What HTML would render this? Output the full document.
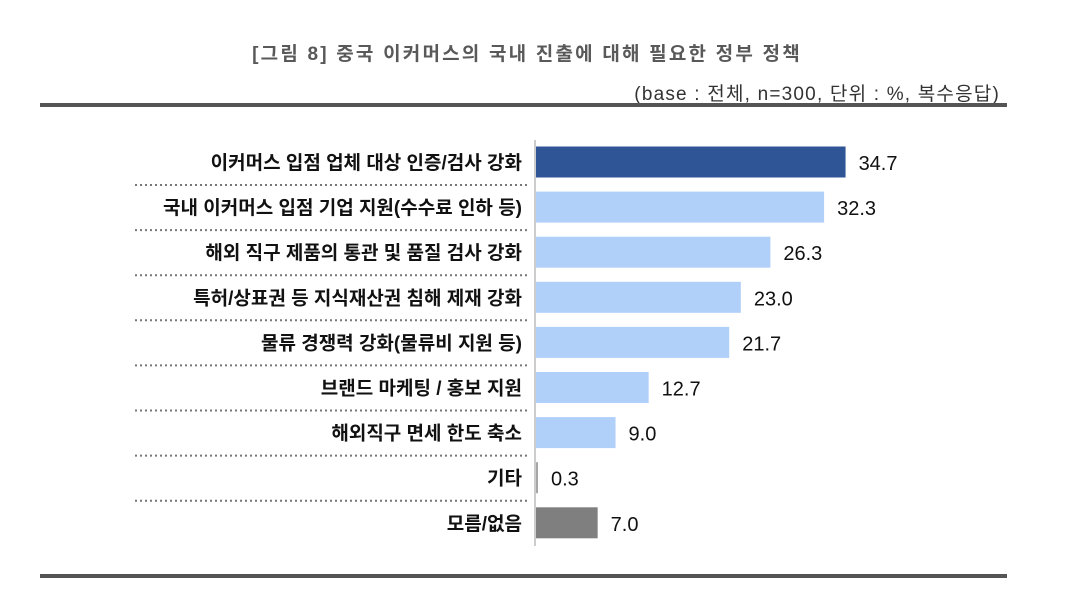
<!DOCTYPE html>
<html><head><meta charset="utf-8"><style>
body{margin:0;background:#fff;width:1067px;height:599px;overflow:hidden;font-family:"Liberation Sans","Noto Sans CJK KR",sans-serif}
</style></head><body>
<svg width="1067" height="599" id="c">
<text x="527" y="60" text-anchor="middle" font-size="19" font-weight="600" fill="#595959" letter-spacing="2.2" font-family="Liberation Sans, Noto Sans CJK KR, sans-serif">[그림 8] 중국 이커머스의 국내 진출에 대해 필요한 정부 정책</text>
<text x="1000" y="100" text-anchor="end" font-size="19" fill="#333" letter-spacing="1.2" font-family="Liberation Sans, Noto Sans CJK KR, sans-serif">(base : 전체, n=300, 단위 : %, 복수응답)</text>
<rect x="40" y="103" width="967" height="4" fill="#555"/>
<rect x="40" y="574" width="967" height="4" fill="#555"/>
<line x1="535" y1="140" x2="535" y2="546" stroke="#ccc" stroke-width="2"/>
<g id="bars"></g>
</svg>
<script>
const categories=["이커머스 입점 업체 대상 인증/검사 강화","국내 이커머스 입점 기업 지원(수수료 인하 등)","해외 직구 제품의 통관 및 품질 검사 강화","특허/상표권 등 지식재산권 침해 제재 강화","물류 경쟁력 강화(물류비 지원 등)","브랜드 마케팅 / 홍보 지원","해외직구 면세 한도 축소","기타","모름/없음"];
const values=[34.7,32.3,26.3,23.0,21.7,12.7,9.0,0.3,7.0];
const colors=["#2f5597","#b0d0fa","#b0d0fa","#b0d0fa","#b0d0fa","#b0d0fa","#b0d0fa","#a6a6a6","#7f7f7f"];
const NS="http://www.w3.org/2000/svg";
const g=document.getElementById('bars');
const x=v=>535+v*8.95;
const yc=i=>162+i*45.1;
function mk(t,a){const e=document.createElementNS(NS,t);for(const k in a)e.setAttribute(k,a[k]);return e;}
categories.forEach((c,i)=>{
 const r=mk('rect',{x:536,y:yc(i)-15.5,width:Math.max(x(values[i])-536,2),height:31,fill:colors[i]});
 
 
 g.appendChild(r);
 const l=mk('text',{x:522,y:yc(i)+7,'text-anchor':'end','font-size':19,'font-weight':'bold',fill:'#111'});
 l.textContent=c;
 
 
 g.appendChild(l);
 const v=mk('text',{x:Math.max(x(values[i]),538)+13,y:yc(i)+8,'font-size':20,'font-weight':500,fill:'#111'});
 v.textContent=values[i].toFixed(1);
 
 
 g.appendChild(v);
 if(i<categories.length-1){
  const d=mk('line',{x1:135,x2:527,y1:yc(i)+23,y2:yc(i)+23,stroke:'#777','stroke-width':2,'stroke-dasharray':'2 3'});
  
  
  g.appendChild(d);
 }
});
</script>
</body></html>
